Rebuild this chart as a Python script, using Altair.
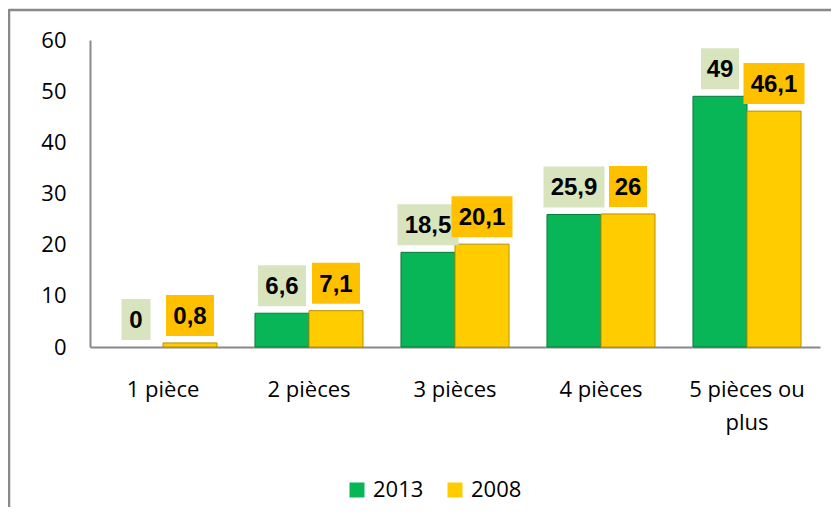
import altair as alt
import pandas as pd

categories = ["1 pièce", "2 pièces", "3 pièces", "4 pièces", "5 pièces ou plus"]
years = ["2013", "2008"]
values_2013 = [0, 6.6, 18.5, 25.9, 49]
values_2008 = [0.8, 7.1, 20.1, 26, 46.1]
labels_2013 = ["0", "6,6", "18,5", "25,9", "49"]
labels_2008 = ["0,8", "7,1", "20,1", "26", "46,1"]
y_ticks = [0, 10, 20, 30, 40, 50, 60]

bar_fill = ["#09B657", "#FFCC00"]
bar_edge = ["#0A7A3C", "#B89200"]
box_fill = ["#D7E4BD", "#FFC000"]

rows = []
for i, c in enumerate(categories):
    rows.append(dict(cat=c, year="2013", value=values_2013[i], label=labels_2013[i]))
    rows.append(dict(cat=c, year="2008", value=values_2008[i], label=labels_2008[i]))
df = pd.DataFrame(rows)

AXIS_FONT = "Open Sans"
GRAY = "#898989"

x_enc = alt.X(
    "cat:N",
    sort=categories,
    scale=alt.Scale(paddingInner=0.26, paddingOuter=0.13),
    axis=alt.Axis(
        title=None, labelAngle=0, ticks=False, domainColor=GRAY, domainWidth=2,
        labelFont=AXIS_FONT, labelFontSize=22, labelColor="black",
        labelPadding=32, labelLineHeight=33, labelOverlap=False, labelBaseline="top",
        labelExpr="datum.value == '5 pièces ou plus' ? ['5 pièces ou', 'plus'] : datum.value",
    ),
)
xo_enc = alt.XOffset("year:N", sort=years, scale=alt.Scale(domain=years, paddingInner=0, paddingOuter=0))
y_enc = alt.Y(
    "value:Q",
    scale=alt.Scale(domain=[0, 60]),
    axis=alt.Axis(
        title=None, values=y_ticks, grid=False, ticks=False, domainColor=GRAY, domainWidth=2,
        labelFont=AXIS_FONT, labelFontSize=22, labelColor="black", labelPadding=24,
    ),
)

base = alt.Chart(df)

bars = base.transform_filter("datum.value > 0").mark_bar(strokeWidth=1).encode(
    x=x_enc,
    xOffset=xo_enc,
    y=y_enc,
    color=alt.Color(
        "year:N", sort=years,
        scale=alt.Scale(domain=years, range=bar_fill),
        legend=alt.Legend(
            title=None, orient="none", legendX=256, legendY=439, direction="horizontal",
            symbolType="square", symbolSize=225, symbolStrokeWidth=0,
            labelFont=AXIS_FONT, labelFontSize=22, labelColor="black",
            labelOffset=5, columnPadding=20,
        ),
    ),
    stroke=alt.Stroke("year:N", sort=years, scale=alt.Scale(domain=years, range=bar_edge), legend=None),
)

box_paths = [
    "M-1.45,-2.05H1.45V2.05H-1.45Z",
    "M-1.9,-2.05H1.9V2.05H-1.9Z",
    "M-2.4,-2.05H2.4V2.05H-2.4Z",
    "M-3.05,-2.05H3.05V2.05H-3.05Z",
]

boxes = base.transform_calculate(
    nchar="toString(length(datum.label))"
).mark_point(filled=True, size=400, opacity=1, strokeWidth=0, yOffset=-27.5).encode(
    x=x_enc,
    xOffset=xo_enc,
    y=y_enc,
    fill=alt.Fill("year:N", sort=years, scale=alt.Scale(domain=years, range=box_fill), legend=None),
    shape=alt.Shape("nchar:N", scale=alt.Scale(domain=["1", "2", "3", "4"], range=box_paths), legend=None),
)

texts = base.mark_text(
    font="Liberation Sans",
    fontWeight="bold", fontSize=24, dy=-26, baseline="middle", align="center", color="black",
).encode(
    x=x_enc,
    xOffset=xo_enc,
    y=y_enc,
    text="label:N",
)

one = pd.DataFrame({"k": [0]})
frame_top = alt.Chart(one).mark_rule(color=GRAY, strokeWidth=2.5).encode(
    x=alt.value(-81), x2=alt.value(760), y=alt.value(-30)
)
frame_left = alt.Chart(one).mark_rule(color=GRAY, strokeWidth=2.5).encode(
    x=alt.value(-81), y=alt.value(-31), y2=alt.value(600)
)

chart = alt.layer(bars, boxes, texts, frame_top, frame_left).properties(
    width=730,
    height=307,
    autosize=alt.AutoSizeParams(type="none"),
    padding={"left": 82, "top": 32, "right": 11, "bottom": 160},
).configure_view(stroke=None).resolve_scale(fill="independent")

chart.save("out.html", embed_options={"renderer": "svg", "actions": False})
